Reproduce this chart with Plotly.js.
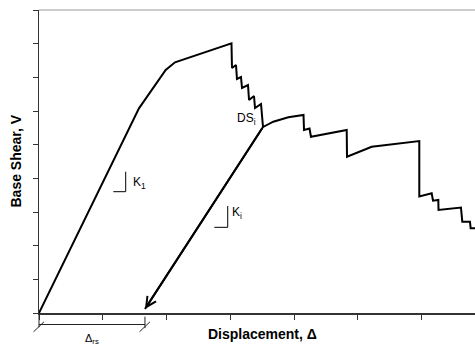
<!DOCTYPE html>
<html>
<head>
<meta charset="utf-8">
<script src="https://cdn.plot.ly/plotly-3.0.1.min.js"></script>
<style>html,body{margin:0;padding:0;background:#fff;}#chart{width:475px;height:347px;}</style>
</head>
<body>
<div id="chart"></div>
<script>
// Pushover (capacity) curve (arbitrary units: 1 tick = 1 unit)
const pushDisp = [0, 1.567, 1.986, 2.132, 3.017,
  3.025, 3.088, 3.103, 3.166, 3.182, 3.276, 3.292, 3.370, 3.386, 3.480, 3.511,
  3.672, 3.908, 4.146, 4.154, 4.240, 4.263, 4.823, 4.828, 5.215, 5.961, 5.961,
  6.155, 6.176, 6.259, 6.262, 6.614, 6.635, 6.755, 6.766, 6.90];
const pushShear = [0, 6.08, 7.217, 7.446, 8.010,
  7.277, 7.366, 6.950, 7.009, 6.683, 6.772, 6.326, 6.445, 6.089, 6.207, 5.524,
  5.682, 5.812, 5.881, 5.435, 5.480, 5.236, 5.435, 4.642, 4.939, 5.108, 3.460,
  3.555, 3.335, 3.356, 3.059, 3.133, 2.712, 2.712, 2.516, 2.516];
// Unloading branch from damage state DS_i down to residual displacement
const unloadDisp = [3.511, 1.661];
const unloadShear = [5.524, 0.119];
const residualDisp = 1.661;

const xMax = 6.834, yMax = 9;
const tickVals = [0, 1, 2, 3, 4, 5, 6];

function px(x) { return x / xMax; }

const traces = [
  {x: pushDisp, y: pushShear, mode: 'lines', line: {color: '#000', width: 2}, hoverinfo: 'skip'},
  {x: unloadDisp, y: unloadShear, mode: 'lines', line: {color: '#000', width: 2}, hoverinfo: 'skip'}
];

const dimColor = '#222';
const shapes = [
  // top frame line
  {type: 'line', xref: 'paper', yref: 'paper', x0: 0, x1: 1, y0: 1, y1: 1, line: {color: '#999', width: 1}},
  // slope markers
  {type: 'line', xref: 'x', yref: 'y', x0: 1.165, x1: 1.359, y0: 3.603, y1: 3.603, line: {color: '#000', width: 1}},
  {type: 'line', xref: 'x', yref: 'y', x0: 1.359, x1: 1.359, y0: 3.603, y1: 4.197, line: {color: '#000', width: 1}},
  {type: 'line', xref: 'x', yref: 'y', x0: 2.748, x1: 2.958, y0: 2.545, y1: 2.545, line: {color: '#000', width: 1}},
  {type: 'line', xref: 'x', yref: 'y', x0: 2.958, x1: 2.958, y0: 2.545, y1: 3.178, line: {color: '#000', width: 1}},
  // residual displacement dimension
  {type: 'line', xref: 'paper', yref: 'paper', x0: px(0), x1: px(residualDisp), y0: -0.038, y1: -0.038, line: {color: dimColor, width: 1}},
  {type: 'line', xref: 'paper', yref: 'paper', x0: px(0), x1: px(0), y0: 0, y1: -0.047, line: {color: dimColor, width: 1}},
  {type: 'line', xref: 'paper', yref: 'paper', x0: px(residualDisp), x1: px(residualDisp), y0: -0.012, y1: -0.050, line: {color: dimColor, width: 1}},
  {type: 'line', xref: 'paper', yref: 'paper', x0: px(0) - 0.0125, x1: px(0) + 0.0115, y0: -0.062, y1: -0.029, line: {color: dimColor, width: 1}},
  {type: 'line', xref: 'paper', yref: 'paper', x0: px(residualDisp) - 0.0125, x1: px(residualDisp) + 0.0115, y0: -0.062, y1: -0.029, line: {color: dimColor, width: 1}}
];

const lblFont = {family: 'Liberation Sans, Arial, sans-serif', size: 12, color: '#000'};
const annotations = [
  {x: residualDisp, y: unloadShear[1], ax: unloadDisp[0], ay: unloadShear[0], axref: 'x', ayref: 'y', xref: 'x', yref: 'y',
   text: '', showarrow: true, arrowhead: 5, arrowsize: 1, arrowwidth: 2, arrowcolor: '#000', standoff: 0},
  {x: 1.442, y: 3.852, xref: 'x', yref: 'y', text: 'K<sub>1</sub>', showarrow: false, xanchor: 'left', yanchor: 'middle', font: lblFont},
  {x: 2.994, y: 2.970, xref: 'x', yref: 'y', text: 'K<sub>i</sub>', showarrow: false, xanchor: 'left', yanchor: 'middle', font: lblFont},
  {x: 3.433, y: 5.777, xref: 'x', yref: 'y', text: 'DS<sub>i</sub>', showarrow: false, xanchor: 'right', yanchor: 'middle', font: lblFont},
  {x: px(residualDisp / 2), y: -0.085, xref: 'paper', yref: 'paper', text: 'Δ<sub>rs</sub>', showarrow: false, xanchor: 'center', yanchor: 'middle',
   font: {family: 'Liberation Sans, Arial, sans-serif', size: 11, color: '#000'}},
  {x: 0.512, y: -0.07, xref: 'paper', yref: 'paper', text: '<b>Displacement, Δ</b>', showarrow: false, xanchor: 'center', yanchor: 'middle',
   font: {family: 'Liberation Sans, Arial, sans-serif', size: 14, color: '#000'}},
  {x: -0.055, y: 0.5, xref: 'paper', yref: 'paper', text: '<b>Base Shear, V</b>', showarrow: false, textangle: -90, xanchor: 'center', yanchor: 'middle',
   font: {family: 'Liberation Sans, Arial, sans-serif', size: 14, color: '#000'}}
];

const axisCommon = {showgrid: false, zeroline: false, showline: true, linecolor: '#333', linewidth: 1.5,
  ticks: 'outside', ticklen: 5, tickwidth: 1, tickcolor: '#333', showticklabels: false, fixedrange: true};

const layout = {
  width: 475, height: 347,
  margin: {l: 39, r: 0, t: 10, b: 34, pad: 0},
  paper_bgcolor: '#fff', plot_bgcolor: '#fff',
  showlegend: false,
  xaxis: Object.assign({}, axisCommon, {range: [0, xMax], tickvals: tickVals}),
  yaxis: Object.assign({}, axisCommon, {range: [0, yMax], dtick: 1, tick0: 0}),
  shapes: shapes,
  annotations: annotations
};

Plotly.newPlot('chart', traces, layout, {staticPlot: true, displayModeBar: false});
</script>
</body>
</html>
